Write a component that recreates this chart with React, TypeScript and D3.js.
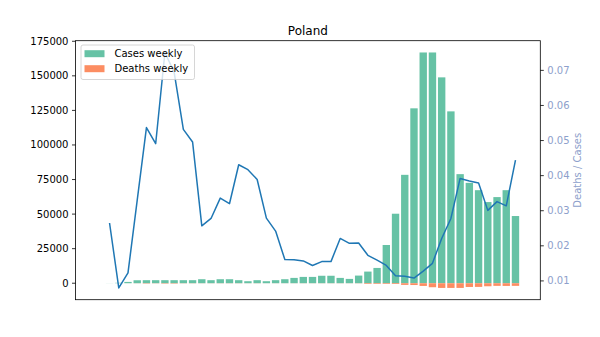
import React from "react";
import * as d3 from "d3";

const weeks = [
  "2020-W10","2020-W11","2020-W12","2020-W13","2020-W14","2020-W15","2020-W16","2020-W17",
  "2020-W18","2020-W19","2020-W20","2020-W21","2020-W22","2020-W23","2020-W24","2020-W25",
  "2020-W26","2020-W27","2020-W28","2020-W29","2020-W30","2020-W31","2020-W32","2020-W33",
  "2020-W34","2020-W35","2020-W36","2020-W37","2020-W38","2020-W39","2020-W40","2020-W41",
  "2020-W42","2020-W43","2020-W44","2020-W45","2020-W46","2020-W47","2020-W48","2020-W49",
  "2020-W50","2020-W51","2020-W52","2020-W53","2021-W01","2021-W02"
];

const casesWeekly = [
  0, 50, 300, 950, 2150, 2200, 2200, 2200, 2200, 2200, 2200, 2900, 2200, 2900, 2900, 2200,
  1450, 2200, 1450, 2200, 2900, 3850, 4570, 4570, 5400, 5400, 3850, 3130, 5530, 8420, 11060,
  27650, 50270, 78400, 126500, 166900, 166900, 148900, 124300, 78900, 72600, 67300, 58700,
  62300, 67300, 48600
];

const deathsWeekly = [
  0, 1, 3, 12, 70, 260, 120, 300, 300, 115, 110, 75, 80, 100, 95, 95,
  60, 85, 40, 55, 45, 60, 70, 65, 80, 85, 85, 65, 110, 500, 500,
  500, 560, 1200, 1300, 1950, 2900, 3400, 3400, 3400, 2700, 2650, 2200,
  1900, 1950, 1900
];

const deathsPerCases: (number | null)[] = [
  null, 0.0265, 0.0080, 0.0123, 0.0330, 0.0537, 0.0491, 0.0751, 0.0695, 0.0532, 0.0496,
  0.0257, 0.0278, 0.0336, 0.0320, 0.0431, 0.0417, 0.0389, 0.0279, 0.0242, 0.0161, 0.0160,
  0.0157, 0.0144, 0.0155, 0.0155, 0.0221, 0.0207, 0.0208, 0.0173, 0.0159, 0.0144, 0.0115,
  0.0113, 0.0108, 0.0128, 0.0150, 0.0221, 0.0278, 0.0392, 0.0385, 0.0379, 0.0301, 0.0326,
  0.0314, 0.0444
];

const leftTicks = [0, 25000, 50000, 75000, 100000, 125000, 150000, 175000];
const rightTicks = [0.01, 0.02, 0.03, 0.04, 0.05, 0.06, 0.07];

const W = 600, H = 337;
const L = 75.5, R = 540.3, T = 40.7, B = 299.7;
const FONT = "DejaVu Sans, sans-serif";
const C_CASES = "#66c2a5", C_DEATHS = "#fc8d62", C_RATIO = "#8da0cb", C_LINE = "#1f77b4";

function withMargin(lo: number, hi: number, m = 0.05): [number, number] {
  const r = hi - lo;
  return [lo - m * r, hi + m * r];
}

export default function App() {
  const n = weeks.length;
  const bw = 0.8;
  const x = d3.scaleLinear().domain(withMargin(-bw / 2, n - 1 + bw / 2)).range([L, R]);
  const yL = d3
    .scaleLinear()
    .domain(withMargin(-(d3.max(deathsWeekly) as number), d3.max(casesWeekly) as number))
    .range([B, T]);
  const rv = deathsPerCases.filter((v) => v !== null) as number[];
  const yR = d3.scaleLinear().domain(withMargin(d3.min(rv)!, d3.max(rv)!)).range([B, T]);
  const pxW = x(bw) - x(0);

  const line = d3
    .line<number | null>()
    .defined((d) => d !== null)
    .x((_, i) => x(i))
    .y((d) => yR(d as number));

  return (
    <svg width={W} height={H} style={{ position: "absolute", left: 0, top: 0, background: "#fff" }} fontFamily={FONT}>
      <rect x={0} y={0} width={W} height={H} fill="#fff" />
      {casesWeekly.map((v, i) => (
        <rect key={"c" + i} x={x(i) - pxW / 2} width={pxW} y={yL(v)} height={Math.max(0, yL(0) - yL(v))} fill={C_CASES} />
      ))}
      {deathsWeekly.map((v, i) => (
        <rect key={"d" + i} x={x(i) - pxW / 2} width={pxW} y={yL(0)} height={Math.max(0, yL(-v) - yL(0))} fill={C_DEATHS} />
      ))}
      <path d={line(deathsPerCases) || ""} fill="none" stroke={C_LINE} strokeWidth={1.5} strokeLinejoin="round" />
      <rect x={L} y={T} width={R - L} height={B - T} fill="none" stroke="#000" strokeWidth={0.8} />
      {leftTicks.map((t) => (
        <g key={"l" + t} transform={`translate(0,${yL(t)})`}>
          <line x1={L - 3.5} x2={L} stroke="#000" strokeWidth={0.8} />
          <text x={L - 7} dy="0.35em" textAnchor="end" fontSize={10} fill="#000">{t}</text>
        </g>
      ))}
      {rightTicks.map((t) => (
        <g key={"r" + t} transform={`translate(0,${yR(t)})`}>
          <line x1={R} x2={R + 3.5} stroke="#000" strokeWidth={0.8} />
          <text x={R + 7} dy="0.35em" textAnchor="start" fontSize={10} fill={C_RATIO}>{t.toFixed(2)}</text>
        </g>
      ))}
      <text x={581} y={(T + B) / 2} transform={`rotate(-90, 581, ${(T + B) / 2})`} textAnchor="middle" fontSize={10} fill={C_RATIO}>
        Deaths / Cases
      </text>
      <text x={(L + R) / 2} y={34.5} textAnchor="middle" fontSize={12} fill="#000">Poland</text>
      <g>
        <rect x={81} y={45} width={113.5} height={34.5} rx={2} fill="#fff" fillOpacity={0.8} stroke="#cccccc" strokeWidth={0.8} />
        <rect x={84.5} y={50.2} width={20} height={7} fill={C_CASES} />
        <rect x={84.5} y={65.2} width={20} height={7} fill={C_DEATHS} />
        <text x={114.5} y={57.3} fontSize={10} fill="#000">Cases weekly</text>
        <text x={114.5} y={72.3} fontSize={10} fill="#000">Deaths weekly</text>
      </g>
    </svg>
  );
}
